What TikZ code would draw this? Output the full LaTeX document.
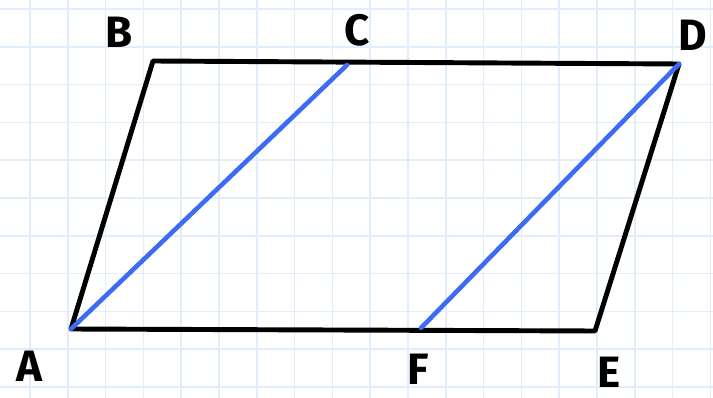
\documentclass[tikz,border=0pt]{standalone}
\usepackage{fontspec}
\setsansfont{Fira Sans}
\usepackage{tikz}
\definecolor{cgrid}{HTML}{E2EDFB}
\definecolor{cdiag}{HTML}{3B6CF2}
\begin{document}
\begin{tikzpicture}[
  x=0.02cm, y=-0.02cm,
  gline/.style={draw=cgrid, line width=0.9pt},
  side/.style={draw=black, line width=2.8pt, line cap=round, line join=round},
  diag/.style={draw=cdiag, line width=2.6pt, line cap=round},
  lbl/.style={font=\sffamily\bfseries\fontsize{25}{28}\selectfont, inner sep=0pt},
]
  % --- papier ---
  \fill[white] (0,0) rectangle (713,398);
  \useasboundingbox (0,0) rectangle (713,398);
  \foreach \i in {0,...,18} {\draw[gline] (30+\i*37.8,0) -- (30+\i*37.8,398);}
  \foreach \j in {0,...,10} {\draw[gline] (0,9+\j*37.8) -- (713,9+\j*37.8);}
  % --- sommets ---
  \coordinate (A) at (71,329);
  \coordinate (B) at (153,61);
  \coordinate (C) at (347,65);
  \coordinate (D) at (679,64);
  \coordinate (E) at (595,331);
  \coordinate (F) at (421,328);
  % --- noms ---
  \node[lbl] (nA) at (29,366) {A};
  \node[lbl] (nB) at (119,32) {B};
  \node[lbl] (nC) at (357,30) {C};
  \node[lbl] (nD) at (693,35) {D};
  \node[lbl] (nE) at (609,372) {E};
  \node[lbl] (nF) at (418,369) {F};
  % --- cotes ---
  \draw[side] (A) -- (B) -- (D) -- (E) -- cycle;
  \draw[diag] (A) -- (C);
  \draw[diag] (F) -- (D);
\end{tikzpicture}
\end{document}
